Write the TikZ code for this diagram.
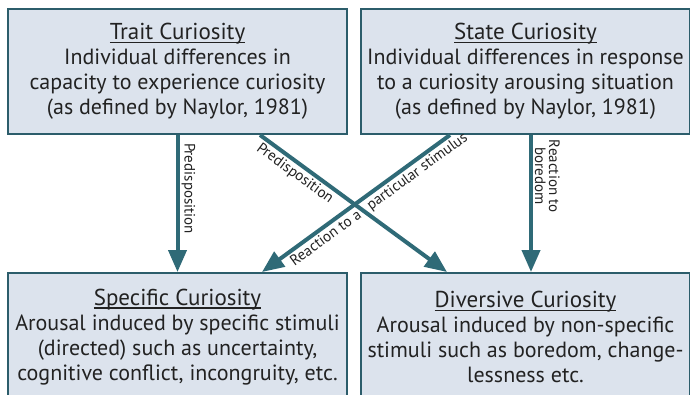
\documentclass[tikz,border=0pt]{standalone}
\usepackage{fontspec}
\setmainfont{PT Sans}
\usetikzlibrary{arrows.meta,calc}
\definecolor{boxfill}{HTML}{DCE3ED}
\definecolor{boxline}{HTML}{2C5D6B}
\definecolor{arrcol}{HTML}{2F6A77}
\definecolor{txt}{HTML}{222222}
\tikzset{
  cbox/.style={draw=boxline, line width=2pt, fill=boxfill, text=txt,
    inner sep=0pt, align=center,
    font=\fontsize{22}{25}\selectfont},
  arr/.style={draw=arrcol, line width=4pt, -{Triangle[width=18pt,length=22pt]}},
  lbl/.style={font=\fontsize{15}{14}\selectfont, text=txt, inner sep=2pt}
}
\newcommand{\ttlline}[1]{{\fontsize{23}{25}\selectfont\setbox0\hbox{#1}\rlap{\rule[-3.2pt]{\wd0}{1.1pt}}\box0}}
\begin{document}
\begin{tikzpicture}[x=1pt,y=-1pt]
\clip (0,0) rectangle (690,394);
\fill[white] (0,0) rectangle (690,394);
\node[cbox, minimum width=339pt, minimum height=125pt] (trait) at (177.5,71.5)
  {\ttlline{Trait Curiosity}\\Individual differences in\\capacity to experience curiosity\\(as defined by Naylor, 1981)};
\node[cbox, minimum width=329pt, minimum height=125pt] (state) at (525.5,71.5)
  {\ttlline{State Curiosity}\\Individual differences in response\\to a curiosity arousing situation\\(as defined by Naylor, 1981)};
\node[cbox, minimum width=339pt, minimum height=128pt] (specific) at (177.5,337)
  {\ttlline{Specific Curiosity}\\Arousal induced by specific stimuli\\(directed) such as uncertainty,\\cognitive conflict, incongruity, etc.};
\node[cbox, minimum width=329pt, minimum height=128pt] (diversive) at (525.5,337)
  {\ttlline{Diversive Curiosity}\\Arousal induced by non-specific\\stimuli such as boredom, change-\\lessness etc.};
\coordinate (d1s) at ([xshift=82.5pt]trait.south);
\coordinate (d1e) at ([xshift=-78.5pt]diversive.north);
\coordinate (d2s) at ([xshift=-75.5pt]state.south);
\coordinate (d2e) at ([xshift=84.5pt]specific.north);
\coordinate (v2s) at ([xshift=5.5pt]state.south);
\coordinate (v2e) at ([xshift=5.5pt]diversive.north);
\draw[arr] (trait.south) -- node[lbl, rotate=-90, anchor=south, pos=0.39]{Predisposition} (specific.north);
\draw[arr] (v2s) -- node[lbl, rotate=-90, anchor=south, pos=0.30, align=center]{Reaction to\\boredom} (v2e);
\draw[arr] (d1s) -- node[lbl, sloped, below, pos=0.22]{Predisposition} (d1e);
\draw[arr] (d2s) -- node[lbl, sloped, below, pos=0.41]{Reaction to a\hspace{11pt}particular stimulus} (d2e);
\end{tikzpicture}
\end{document}
